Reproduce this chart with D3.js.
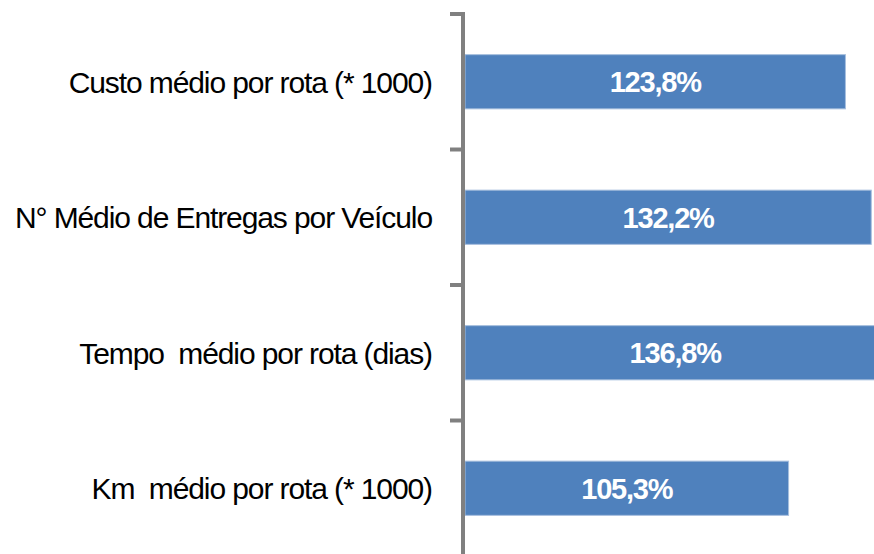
<!DOCTYPE html>
<html>
<head>
<meta charset="utf-8">
<script src="https://cdn.jsdelivr.net/npm/d3@7"></script>
<style>
  html, body { margin: 0; padding: 0; background: #fff; overflow: hidden; }
  svg { display: block; font-family: "Liberation Sans", Arial, sans-serif; }
</style>
</head>
<body>
<div id="chart"></div>
<script>
// categories top to bottom
const categories = [
  "Custo médio por rota (* 1000)",
  "N° Médio de Entregas por Veículo",
  "Tempo  médio por rota (dias)",
  "Km  médio por rota (* 1000)"
];
// percentages
const values = [123.8, 132.2, 136.8, 105.3];
const valueLabels = ["123,8%", "132,2%", "136,8%", "105,3%"];

const width = 874, height = 554;
const axisX = 463;

const svg = d3.select("#chart")
    .append("svg")
    .attr("width", width)
    .attr("height", height);

const x = d3.scaleLinear()
    .domain([0, 140])
    .range([465, 465 + 140 * 3.073]);

const y = d3.scaleBand()
    .domain(categories)
    .range([14, 556])
    .paddingInner(0.6)
    .paddingOuter(0.3);

//bars
svg.append("g")
    .selectAll("rect")
    .data(values)
    .join("rect")
    .attr("x", x(0))
    .attr("y", (d, i) => y(categories[i]))
    .attr("width", d => x(d) - x(0))
    .attr("height", y.bandwidth())
    .attr("fill", "#4F81BD")
    .attr("stroke", "#A7BFDE")
    .attr("stroke-width", 1);

//value labels
svg.append("g")
    .selectAll("text")
    .data(values)
    .join("text")
    .attr("x", d => (x(0) + x(d)) / 2)
    .attr("y", (d, i) => y(categories[i]) + y.bandwidth() / 2)
    .attr("dy", "0.36em")
    .attr("text-anchor", "middle")
    .attr("fill", "#fff")
    .attr("font-weight", "bold")
    .attr("font-size", 29)
    .attr("letter-spacing", -1.2)
    .text((d, i) => valueLabels[i]);

//category axis
const step = y.step();
const boundaries = d3.range(categories.length + 1).map(i => 14 + i * step);
const axis = svg.append("g");
axis.append("line")
    .attr("x1", axisX).attr("x2", axisX)
    .attr("y1", 12).attr("y2", height)
    .attr("stroke", "#808080")
    .attr("stroke-width", 4);
axis.selectAll(".tick")
    .data(boundaries)
    .join("line")
    .attr("class", "tick")
    .attr("x1", 450).attr("x2", axisX)
    .attr("y1", d => d).attr("y2", d => d)
    .attr("stroke", "#808080")
    .attr("stroke-width", 4);

axis.selectAll(".lbl")
    .data(categories)
    .join("text")
    .attr("class", "lbl")
    .attr("x", 432)
    .attr("y", d => y(d) + y.bandwidth() / 2)
    .attr("dy", "0.36em")
    .attr("text-anchor", "end")
    .attr("font-size", 30)
    .attr("letter-spacing", -1.1)
    .attr("fill", "#000")
    .style("white-space", "pre")
    .text(d => d);
</script>
</body>
</html>
